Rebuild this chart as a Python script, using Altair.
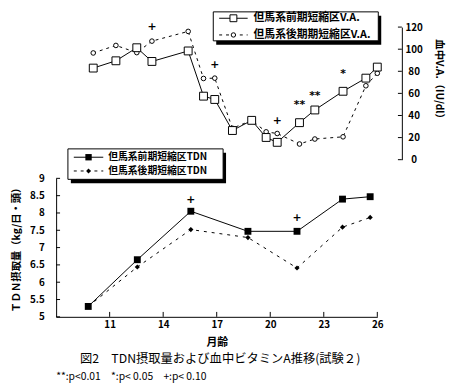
import altair as alt
import pandas as pd

# ---------------- data ----------------
tdn_month = [9.8, 12.55, 15.55, 18.75, 21.5, 24.05, 25.6]
tdn_front = [5.3, 6.65, 8.05, 7.47, 7.47, 8.40, 8.47]
tdn_back = [5.3, 6.44, 7.52, 7.29, 6.41, 7.59, 7.87]

va_month = [10.08, 11.35, 12.52, 13.37, 15.40, 16.26, 16.89, 17.88,
            18.96, 19.77, 20.39, 21.64, 22.50, 24.08, 25.36, 26.0]
va_front = [82.9, 89.5, 101.3, 88.9, 98.4, 57.5, 54.5, 26.4,
            35.6, 20.1, 15.7, 33.5, 45.0, 61.9, 73.8, 83.8]
va_back = [96.6, 103.4, 96.9, 107.3, 116.1, 73.5, 73.8, 28.4,
           35.6, 25.2, 23.7, 14.2, 18.7, 20.7, 66.9, 78.2]

sig_va_month = [13.37, 16.89, 20.39, 21.64, 22.50, 24.08]
sig_va_value = [120, 86, 34.7, 49.8, 57.8, 77.3]
sig_va_label = ["+", "+", "+", "**", "**", "*"]

sig_tdn_month = [15.55, 21.5]
sig_tdn_value = [8.36, 7.86]
sig_tdn_label = ["+", "+"]

x_ticks = [11, 14, 17, 20, 23, 26]
tdn_ticks = [5, 5.5, 6, 6.5, 7, 7.5, 8, 8.5, 9]
va_ticks = [0, 20, 40, 60, 80, 100, 120]

legend_va = ["但馬系前期短縮区V.A.", "但馬系後期期短縮区V.A."]
legend_tdn = ["但馬系前期短縮区TDN", "但馬系後期短縮区TDN"]
x_title = "月齢"
tdn_title = "ＴＤＮ摂取量（kg/日・頭）"
va_title = "血中V.A.（IU/dl）"
caption1 = "図2　TDN摂取量および血中ビタミンA推移(試験２)"
caption2 = "**:p<0.01　*:p< 0.05　+:p< 0.10"

# ---------------- frames ----------------
df_tdn_f = pd.DataFrame({"month": tdn_month, "value": tdn_front})
df_tdn_b = pd.DataFrame({"month": tdn_month, "value": tdn_back})
df_va_f = pd.DataFrame({"month": va_month, "value": va_front})
df_va_b = pd.DataFrame({"month": va_month, "value": va_back})
df_sig_va = pd.DataFrame({"month": sig_va_month, "value": sig_va_value, "label": sig_va_label})
df_sig_tdn = pd.DataFrame({"month": sig_tdn_month, "value": sig_tdn_value, "label": sig_tdn_label})
df_xt = pd.DataFrame({"month": x_ticks})
df_tt = pd.DataFrame({"value": tdn_ticks})
df_vt = pd.DataFrame({"value": va_ticks})
one = pd.DataFrame({"a": [0]})

FONT = "Noto Sans CJK JP"
SIGFONT = "DejaVu Sans"
W, H = 352, 311

xscale = alt.Scale(domain=[8, 26], range=[0, 327], nice=False, zero=False)
xaxis = alt.Axis(values=x_ticks, title=x_title, ticks=False, grid=False,
                 domainColor="black", domainWidth=1, labelFont=FONT,
                 labelFontWeight="bold", labelFontSize=10, labelColor="black",
                 labelPadding=3, labelFlush=False, titleFont=FONT,
                 titleFontWeight="bold", titleFontSize=11, titleColor="black",
                 titlePadding=7)

tdn_scale = alt.Scale(domain=[5, 9], range=[311, 170], nice=False, zero=False)
va_scale = alt.Scale(domain=[0, 120], range=[151, 16], nice=False, zero=False)

left_axis = alt.Axis(values=tdn_ticks, format=".1~f", ticks=False, grid=False,
                     domainColor="black", domainWidth=1, labelFont=FONT,
                     labelFontWeight="bold", labelFontSize=10, labelColor="black",
                     labelPadding=12, title=tdn_title, titleFont=FONT,
                     titleFontWeight="bold", titleFontSize=10.5, titleColor="black",
                     titleX=-40, titleY=240, titleAngle=270, titleAlign="center",
                     titleBaseline="middle", orient="left")
right_axis = alt.Axis(values=va_ticks, ticks=False, grid=False,
                      domainColor="black", domainWidth=1, labelFont=FONT,
                      labelFontWeight="bold", labelFontSize=10, labelColor="black",
                      labelPadding=12, labelAlign="center", title=va_title,
                      titleFont=FONT, titleFontWeight="bold", titleFontSize=10.5,
                      titleColor="black", titleX=37, titleY=71, titleAngle=90,
                      titleAlign="center", titleBaseline="middle", orient="right")


def X():
    return alt.X("month:Q", scale=xscale, axis=xaxis)


def YT(axis=None):
    return alt.Y("value:Q", scale=tdn_scale, axis=axis)


def YV(axis=None):
    return alt.Y("value:Q", scale=va_scale, axis=axis)


layers = []

# TDN
layers.append(alt.Chart(df_tdn_b).mark_line(color="black", strokeWidth=1, strokeDash=[3, 5])
              .encode(x=X(), y=YT()))
layers.append(alt.Chart(df_tdn_f).mark_line(color="black", strokeWidth=1)
              .encode(x=X(), y=YT(left_axis)))
layers.append(alt.Chart(df_tdn_b).mark_point(shape="diamond", size=28, filled=True,
                                             color="black", opacity=1)
              .encode(x=X(), y=YT()))
layers.append(alt.Chart(df_tdn_f).mark_square(size=49, color="black", opacity=1)
              .encode(x=X(), y=YT()))
layers.append(alt.Chart(df_sig_tdn).mark_text(font=SIGFONT, fontWeight="bold", fontSize=11,
                                              color="black", baseline="middle")
              .encode(x=X(), y=YT(), text="label:N"))
# inward ticks
layers.append(alt.Chart(df_tt).mark_rule(color="black", strokeWidth=1)
              .encode(y=YT(), x=alt.value(0), x2=alt.value(4)))
layers.append(alt.Chart(df_xt).mark_rule(color="black", strokeWidth=1)
              .encode(x=X(), y=alt.value(H), y2=alt.value(H - 5)))

# VA
layers.append(alt.Chart(df_va_b).mark_line(color="black", strokeWidth=1, strokeDash=[3, 4])
              .encode(x=X(), y=YV()))
layers.append(alt.Chart(df_va_f).mark_line(color="black", strokeWidth=1)
              .encode(x=X(), y=YV(right_axis)))
layers.append(alt.Chart(df_va_b).mark_circle(size=22, color="white", stroke="black",
                                             strokeWidth=1, opacity=1)
              .encode(x=X(), y=YV()))
layers.append(alt.Chart(df_va_f).mark_square(size=64, color="white", stroke="black",
                                             strokeWidth=1, opacity=1)
              .encode(x=X(), y=YV()))
layers.append(alt.Chart(df_sig_va).mark_text(font=SIGFONT, fontWeight="bold", fontSize=11,
                                             color="black", baseline="middle")
              .encode(x=X(), y=YV(), text="label:N"))
layers.append(alt.Chart(df_vt).mark_rule(color="black", strokeWidth=1)
              .encode(y=YV(), x=alt.value(W), x2=alt.value(W - 4)))


# legends
def legend_box(x1, x2, y1, y2, items, tx, lx1, lx2, mx, ys, marks, fs):
    out = []
    out.append(alt.Chart(one).mark_rect(color="black")
               .encode(x=alt.value(x1 + 3), x2=alt.value(x2 + 3),
                       y=alt.value(y1 + 4), y2=alt.value(y2 + 4)))
    out.append(alt.Chart(one).mark_rect(fill="white", stroke="black", strokeWidth=1)
               .encode(x=alt.value(x1), x2=alt.value(x2),
                       y=alt.value(y1), y2=alt.value(y2)))
    for i, (label, yy) in enumerate(zip(items, ys)):
        dash = [] if i == 0 else [3, 4]
        rule = alt.Chart(one).mark_rule(color="black", strokeWidth=1,
                                        **({"strokeDash": dash} if dash else {}))
        out.append(rule.encode(x=alt.value(lx1), x2=alt.value(lx2), y=alt.value(yy)))
        out.append(marks[i].encode(x=alt.value(mx), y=alt.value(yy)))
        out.append(alt.Chart(one).mark_text(font=FONT, fontWeight="bold", fontSize=fs,
                                            color="black", align="left", baseline="middle")
                   .encode(x=alt.value(tx), y=alt.value(yy), text=alt.value(label)))
    return out


layers += legend_box(160, 328, 0.5, 30, legend_va, 201, 166, 195, 180.5, [7, 24],
                     [alt.Chart(one).mark_square(size=49, color="white", stroke="black",
                                                 strokeWidth=1, opacity=1),
                      alt.Chart(one).mark_circle(size=20, color="white", stroke="black",
                                                 strokeWidth=1, opacity=1)], 11)
layers += legend_box(12, 170, 140, 171, legend_tdn, 53, 18, 48, 33, [148.5, 162.5],
                     [alt.Chart(one).mark_square(size=42, color="black", opacity=1),
                      alt.Chart(one).mark_point(shape="diamond", size=24, filled=True,
                                                color="black", opacity=1)], 10)

# captions
layers.append(alt.Chart(one).mark_text(font=FONT, fontSize=12.5, color="black",
                                       align="center", baseline="middle")
              .encode(x=alt.value(167), y=alt.value(354), text=alt.value(caption1)))
layers.append(alt.Chart(one).mark_text(font=FONT, fontSize=10.5, color="black",
                                       align="left", baseline="middle")
              .encode(x=alt.value(0), y=alt.value(372), text=alt.value(caption2)))

chart = (alt.layer(*layers)
         .resolve_scale(y="independent")
         .properties(width=W, height=H,
                     autosize=alt.AutoSizeParams(type="none"),
                     padding={"left": 49, "top": 0, "right": 48, "bottom": 68},
                     background="white")
         .configure_view(stroke=None))

chart.save("out.html", embed_options={"renderer": "svg", "actions": False})
